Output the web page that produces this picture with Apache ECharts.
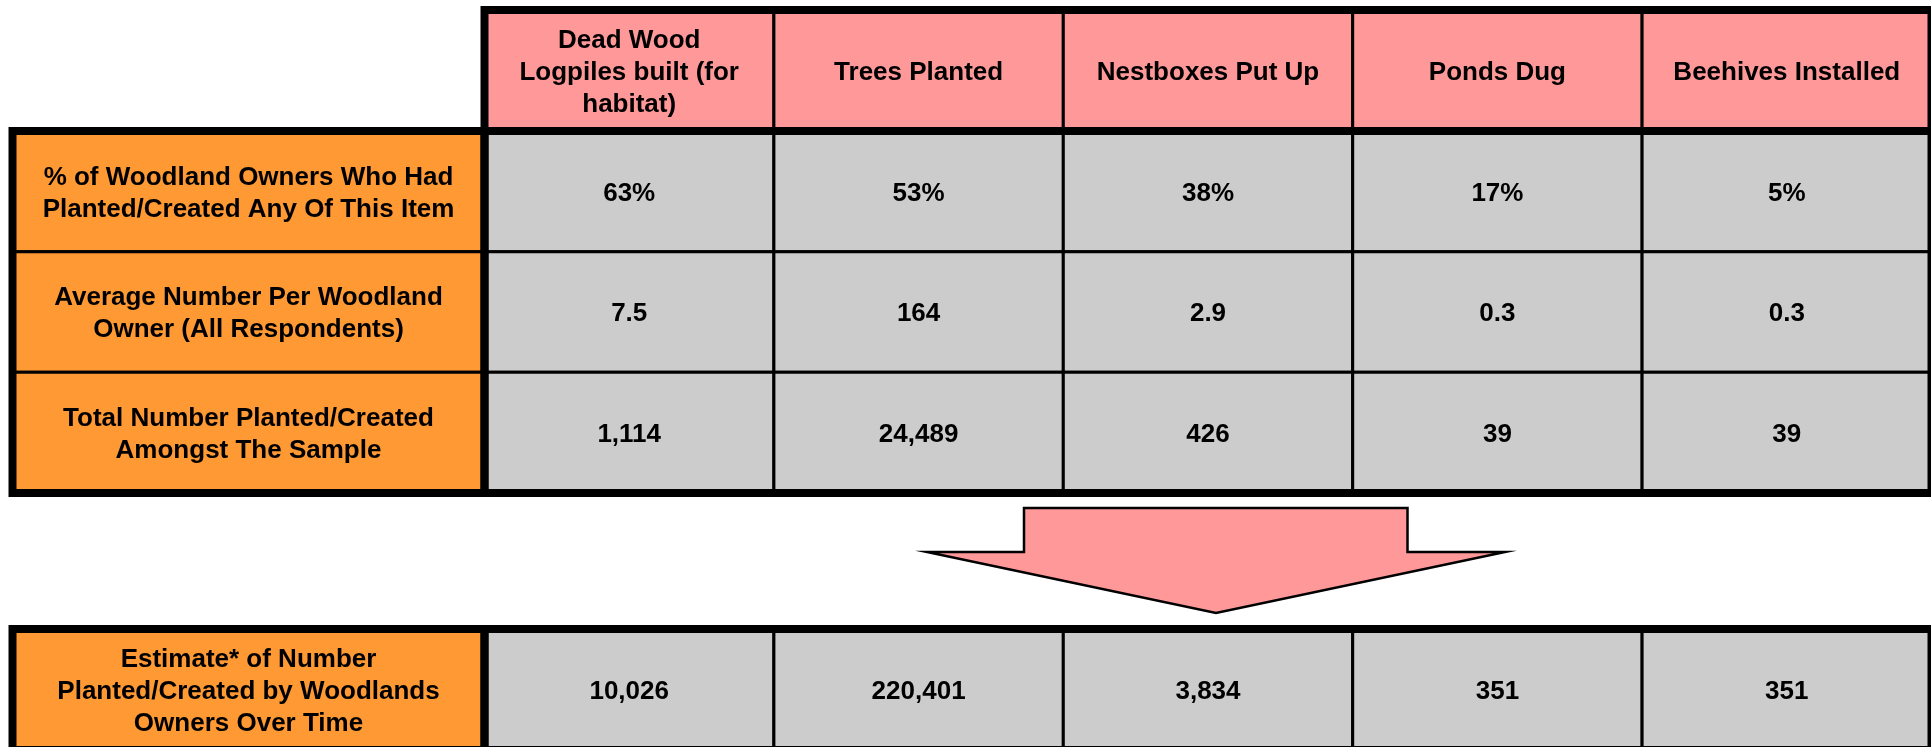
<!DOCTYPE html>
<html>
<head>
<meta charset="utf-8">
<script src="https://cdn.jsdelivr.net/npm/echarts@6/dist/echarts.min.js"></script>
<style>
html,body{margin:0;padding:0;background:#fff;}
#chart{width:1931px;height:747px;}
</style>
</head>
<body>
<div id="chart"></div>
<script>
// ---- data ----
const items = ['Dead Wood\nLogpiles built (for\nhabitat)', 'Trees Planted', 'Nestboxes Put Up', 'Ponds Dug', 'Beehives Installed'];
const measures = [
  '% of Woodland Owners Who Had\nPlanted/Created Any Of This Item',
  'Average Number Per Woodland\nOwner (All Respondents)',
  'Total Number Planted/Created\nAmongst The Sample'
];
const pctOwners = [63, 53, 38, 17, 5];
const avgPerOwner = [7.5, 164, 2.9, 0.3, 0.3];
const totalSample = [1114, 24489, 426, 39, 39];
const estimateLabel = ['Estimate* of Number\nPlanted/Created by Woodlands\nOwners Over Time'];
const estimateTotal = [10026, 220401, 3834, 351, 351];

// ---- formatting ----
const fmtInt = v => v.toLocaleString('en-US');
const rowTexts = [
  pctOwners.map(v => v + '%'),
  avgPerOwner.map(v => String(v)),
  totalSample.map(fmtInt)
];
const estTexts = estimateTotal.map(fmtInt);

// ---- styles ----
const PINK = '#FF9999', ORANGE = '#FF9933', GREY = '#CCCCCC';
const FONT = 'Liberation Sans';
const TEXT_DY = 2;

function cellSeries(gridIdx, fill, data, textOf) {
  return {
    type: 'custom',
    coordinateSystem: 'cartesian2d',
    xAxisIndex: gridIdx,
    yAxisIndex: gridIdx,
    z: 2,
    data: data,
    renderItem: function (params, api) {
      const c = api.coord([api.value(0), api.value(1)]);
      const s = api.size([1, 1]);
      return {
        type: 'group',
        children: [
          {
            type: 'rect',
            shape: { x: c[0] - s[0] / 2, y: c[1] - s[1] / 2, width: s[0], height: s[1] },
            style: { fill: fill, stroke: '#000', lineWidth: 3 }
          },
          {
            type: 'text',
            x: c[0],
            y: c[1] + TEXT_DY,
            style: {
              text: textOf(params.dataIndex),
              fill: '#000',
              fontFamily: FONT,
              fontWeight: 'bold',
              fontSize: 26,
              lineHeight: 32,
              align: 'center',
              verticalAlign: 'middle'
            }
          }
        ]
      };
    }
  };
}

// grid geometry (line centres)
const grids = [
  { left: 484.5, top: 10, width: 1447, height: 121 },   // header
  { left: 12.5, top: 131, width: 472, height: 362 },    // measure labels
  { left: 484.5, top: 131, width: 1447, height: 362 },  // values
  { left: 12.5, top: 629, width: 472, height: 121 },    // estimate label
  { left: 484.5, top: 629, width: 1447, height: 121 }   // estimate values
].map(g => Object.assign({
  show: true, z: 10, backgroundColor: 'transparent',
  borderColor: '#000', borderWidth: 8, outerBoundsMode: 'none', containLabel: false
}, g));

const hidden = { show: false };
const xAxes = [
  Object.assign({ type: 'category', gridIndex: 0, data: items }, hidden),
  Object.assign({ type: 'category', gridIndex: 1, data: ['label'] }, hidden),
  Object.assign({ type: 'category', gridIndex: 2, data: items }, hidden),
  Object.assign({ type: 'category', gridIndex: 3, data: ['label'] }, hidden),
  Object.assign({ type: 'category', gridIndex: 4, data: items }, hidden)
];
const yAxes = [
  Object.assign({ type: 'category', gridIndex: 0, data: ['header'], inverse: true }, hidden),
  Object.assign({ type: 'category', gridIndex: 1, data: measures, inverse: true }, hidden),
  Object.assign({ type: 'category', gridIndex: 2, data: measures, inverse: true }, hidden),
  Object.assign({ type: 'category', gridIndex: 3, data: estimateLabel, inverse: true }, hidden),
  Object.assign({ type: 'category', gridIndex: 4, data: estimateLabel, inverse: true }, hidden)
];

const headerData = items.map((_, i) => [i, 0]);
const labelData = measures.map((_, j) => [0, j]);
const valueData = [];
const valueText = [];
measures.forEach((_, j) => items.forEach((_, i) => { valueData.push([i, j]); valueText.push(rowTexts[j][i]); }));
const estData = items.map((_, i) => [i, 0]);

const series = [
  cellSeries(0, PINK, headerData, i => items[i]),
  cellSeries(1, ORANGE, labelData, j => measures[j]),
  cellSeries(2, GREY, valueData, k => valueText[k]),
  cellSeries(3, ORANGE, [[0, 0]], j => estimateLabel[j]),
  cellSeries(4, GREY, estData, i => estTexts[i])
];

// arrow connecting the tables (decoration)
const arrow = {
  type: 'polygon',
  z: 20,
  shape: {
    points: [[1024, 508], [1407.5, 508], [1407.5, 552], [1505, 552], [1216, 613], [927, 552], [1024, 552]]
  },
  style: { fill: PINK, stroke: '#000', lineWidth: 2.5 }
};

const chart = echarts.init(document.getElementById('chart'), null, { renderer: 'canvas' });
chart.setOption({
  backgroundColor: '#fff',
  animation: false,
  grid: grids,
  xAxis: xAxes,
  yAxis: yAxes,
  series: series,
  graphic: [arrow]
});
</script>
</body>
</html>
